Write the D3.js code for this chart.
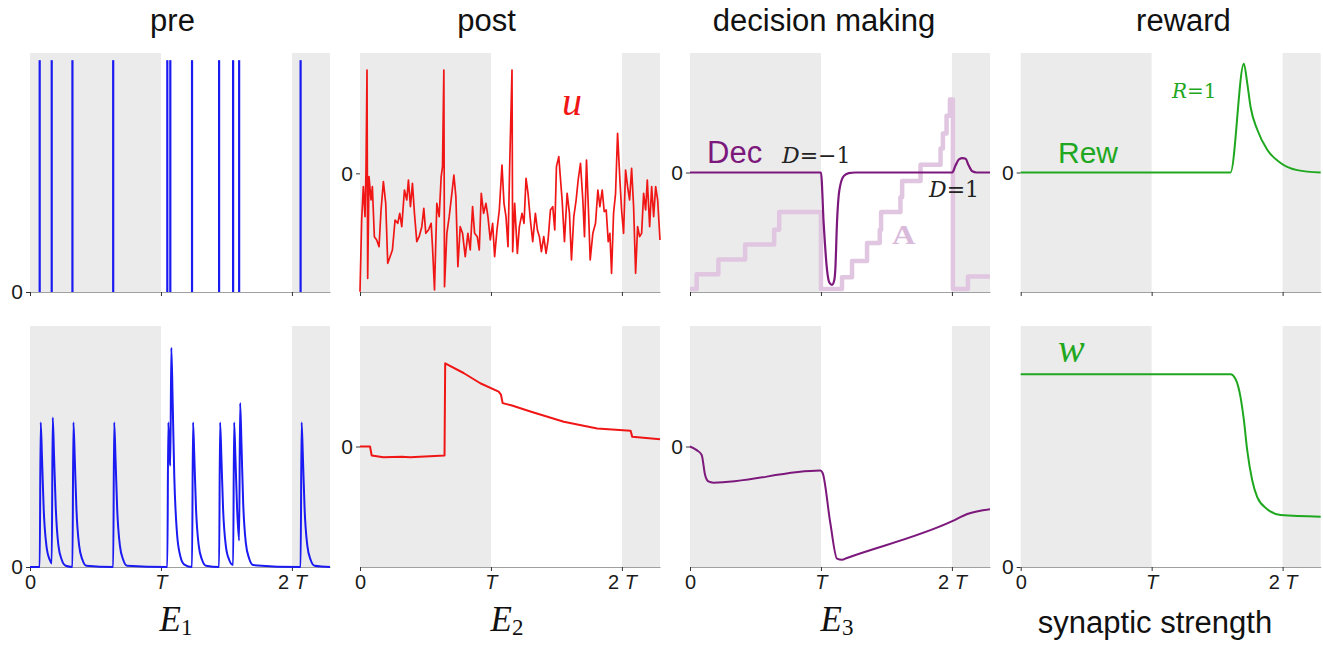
<!DOCTYPE html>
<html><head><meta charset="utf-8">
<script src="https://cdn.jsdelivr.net/npm/d3@7"></script>
<style>body{margin:0;background:#fff}</style>
</head><body>
<svg id="c" width="1323" height="645"></svg>
<script>
// ---------- data (time in steps, T = 392) ----------
const T = 392, TMAX = 898;
const xTicks = [0, 392, 784];
const xTickLabels = ["0", "T", "2 T"];
const shadedIntervals = [[0, 392], [784, 898]];
const columnTitles = ["pre", "post", "decision making", "reward"];
const columnXLabels = ["E1", "E2", "E3", "synaptic strength"];

const preSpikeTimes = [29, 65, 127, 249, 411, 420, 485, 566, 608, 626, 810];
const spikeHeight = 0.97;

const e1Trace = [
[0,0],[29,0],[32,0.6],[36,0.45],[41,0.24],[49,0.09],[59,0.03],[65,0.015],
[68,0.62],[72,0.46],[77,0.25],[85,0.09],[95,0.03],[107,0.005],
[127,0],[130,0.6],[134,0.45],[139,0.24],[147,0.09],[157,0.03],[169,0.005],
[249,0],[252,0.6],[256,0.45],[261,0.24],[269,0.09],[279,0.03],[291,0.005],
[411,0],[414,0.6],[418,0.45],[420,0.42],[423,0.91],[427,0.69],[432,0.37],[440,0.14],[450,0.045],[462,0.01],
[485,0],[488,0.6],[492,0.45],[497,0.24],[505,0.09],[515,0.03],[527,0.005],
[566,0],[569,0.6],[573,0.45],[578,0.24],[586,0.09],[596,0.03],
[608,0.008],[611,0.6],[615,0.45],[620,0.24],[626,0.11],[629,0.68],[633,0.51],[638,0.27],[646,0.1],[656,0.035],[668,0.008],
[810,0],[813,0.6],[817,0.45],[822,0.24],[830,0.09],[840,0.03],[852,0.005],[898,0]
];

const uTrace = [
[0,-35.5],[5,-14],[10,-4],[15,-13],[18,1],[21,31],[23,-31.5],[27,-1],[33,-8],[37,-4],[43,-19],[50,-20],[57,-22],[63,-11],[70,-2.5],[77,-9],[83,-27],[90,-25],[97,-23],[105,-14],[113,-15],[119,-12],[125,-16],[133,-5],[140,-8],[145,-2],[151,-10],[157,-3],[163,-12],[170,-20.5],[177,-19],[185,-16],[191,-10.5],[197,-18],[205,-17],[213,-15],[217,-22],[223,-35],[230,-9],[237,-13],[243,-1],[247,2],[251,31],[253,-34],[260,-18],[267,-13],[275,-6],[281,-0.5],[287,-7],
[293,-28],[300,-16],[307,-18],[315,-25],[323,-18],[330,-23],[337,-10],[343,-18],[351,-19],[357,-23],[363,-6],[370,-12],[377,-9],[383,-13],[390,-20],[397,-15],[403,-25],[410,-17],[417,-11],[425,2.5],[431,-9],[437,-13],[443,-22],[448,2],[455,31],[457,-23.5],[463,-9],[471,-24],[477,-16],[485,-12],[491,-15],[497,-1.5],[503,-6],[510,-14],[517,-20.5],[525,-12],[531,-17],[537,-19],[543,-23.5],[550,-19],[557,-24],[563,-20],[570,-11],[577,-10],[583,-17],[588,2],[595,5],
[605,-8],[612,-20.5],[620,-6],[627,-12],[633,-26],[640,-13],[647,-8],[653,-2],[660,3],[667,-8],[672,-19],[678,4],[685,-14],[689,-26],[697,-18],[705,-15],[712,-5],[718,-10],[725,-5],[731,-11.5],[737,-11],[743,-20.5],[748,-18],[753,-30],[759,-12],[765,-6],[771,12],[778,-2],[783,-11],[789,-18],[795,1],[801,-4],[807,-8],[813,1.5],[819,-10],[825,-30],[831,-16],[837,-19],[843,-18],[849,-6],[855,-11],[860,-2],[867,-16],[873,-4],[879,-13],[885,-4],[891,-8],[898,-20]
];
const uDomain = [-35.6, 36.1];

const e2Trace = [
[0,0],[30,0],[35,-0.075],[70,-0.09],[125,-0.085],[150,-0.09],[253,-0.075],[255,0.69],[310,0.61],[360,0.525],[415,0.455],[422,0.43],[427,0.36],[455,0.34],[510,0.29],[610,0.205],[710,0.15],[810,0.13],[815,0.08],[898,0.06]
];

const decTrace = [
[0,0],[392,0],[400,-0.42],[410,-0.81],[417,-0.92],[425,-0.94],[432,-0.9],[435,-0.81],[440,-0.42],[447,-0.15],[460,-0.03],[475,-0.005],[495,0],
[785,0],[795,0.06],[805,0.11],[816,0.12],[825,0.115],[834,0.06],[845,0.01],[858,0],[898,0]
];

const aSteps = [
[0,0],[20,1],[85,2],[165,3],[252,4],[267,5.2],[392,0],
[455,0.8],[485,1.9],[530,3.1],[568,4.0],[572,5.2],[630,6.2],[635,7.3],[690,8.4],[750,9.5],[757,10.5],[768,11.7],[778,12.8],[787,0],
[832,0.85],[898,0.85]
];
const aDomain = [0, 13];

const e3Trace = [
[0,0],[20,-0.03],[35,-0.07],[45,-0.235],[55,-0.29],[70,-0.3],[390,-0.2],[397,-0.22],[420,-0.635],[440,-0.93],[455,-0.94],[470,-0.925],[785,-0.62],[830,-0.56],[898,-0.52]
];

const rewTrace = [
[0,0],[628,0],[668,0.91],[678,0.75],[688,0.55],[708,0.36],[738,0.19],[778,0.08],[828,0.02],[898,0]
];

const wTrace = [
[0,0.8],[628,0.8],[643,0.78],[658,0.705],[668,0.61],[678,0.485],[693,0.36],[708,0.29],[738,0.24],[778,0.216],[898,0.209]
];

// ---------- layout ----------
const svg = d3.select("#c");
const colX = [30, 360, 690, 1020.7];
const plotW = 300;
const rows = [{top: 53, bottom: 292}, {top: 326, bottom: 567}];
const SANS = "'Liberation Sans', Arial, sans-serif";
const SERIF = "'Liberation Serif', 'Times New Roman', serif";
const DSERIF = "'DejaVu Serif', serif";
const COL = {blue: "#1a1af2", red: "#f01616", purple: "#7c187c", green: "#1fa81f", a: "#e0c6e0", gray: "#ebebeb"};

function makePanel(col, row, yDomain, zeroTick) {
  const r = rows[row];
  const x = d3.scaleLinear().domain([0, TMAX]).range([colX[col], colX[col] + plotW]);
  const y = d3.scaleLinear().domain(yDomain).range([r.bottom, r.top]);
  const g = svg.append("g");
  g.selectAll("rect.sh").data(shadedIntervals).join("rect")
    .attr("x", d => x(d[0])).attr("width", d => x(d[1]) - x(d[0]))
    .attr("y", r.top).attr("height", r.bottom - r.top)
    .attr("fill", COL.gray);
  // x axis
  const xa = g.append("g").attr("transform", `translate(0,${r.bottom})`)
    .call(d3.axisBottom(x).tickValues(xTicks).tickSize(4).tickSizeOuter(0).tickPadding(4).tickFormat(() => ""));
  xa.select(".domain").attr("stroke", "#a0a0a0").attr("stroke-width", 1);
  xa.selectAll(".tick line").attr("stroke", "#333");
  if (row === 1) {
    xa.selectAll(".tick text").each(function(d, i) {
      const t = d3.select(this).attr("font-size", 20).attr("font-family", SANS).attr("fill", "#1a1a1a");
      const lab = xTickLabels[i];
      if (lab === "0") t.text("0");
      else {
        const parts = lab.split(" ");
        if (parts.length === 2) { t.append("tspan").text(parts[0] + " "); t.append("tspan").attr("font-style", "italic").text(parts[1]); }
        else t.append("tspan").attr("font-style", "italic").text(parts[0]);
      }
    });
  }
  // y axis (only 0 tick)
  const ya = g.append("g").attr("transform", `translate(${colX[col]},0)`)
    .call(d3.axisLeft(y).tickValues([zeroTick]).tickSize(4).tickPadding(3).tickFormat(() => "0"));
  ya.select(".domain").remove();
  ya.selectAll(".tick line").attr("stroke", "#333");
  ya.selectAll(".tick text").attr("font-size", 21).attr("font-family", SANS).attr("fill", "#1a1a1a");
  return {x, y, g};
}

function drawLine(p, data, color, width, curve, yScale) {
  const ys = yScale || p.y;
  p.g.append("path").datum(data)
    .attr("d", d3.line().x(d => p.x(d[0])).y(d => ys(d[1])).curve(curve || d3.curveLinear))
    .attr("fill", "none").attr("stroke", color).attr("stroke-width", width)
    .attr("stroke-linejoin", "round");
}

// titles
const titleX = [172.5, 486.5, 824, 1183.5];
columnTitles.forEach((t, i) => {
  svg.append("text").attr("x", titleX[i]).attr("y", 31).attr("text-anchor", "middle")
    .attr("font-family", SANS).attr("font-size", 31).attr("fill", "#111").text(t);
});
// bottom labels
const xLabX = [176, 507, 837, 1155];
columnXLabels.forEach((t, i) => {
  const tx = svg.append("text").attr("x", xLabX[i]).attr("text-anchor", "middle").attr("fill", "#111");
  if (t.startsWith("E")) {
    tx.attr("y", 631).attr("font-family", SERIF).attr("font-size", 35);
    tx.append("tspan").attr("font-style", "italic").text("E");
    tx.append("tspan").attr("font-size", 23).attr("dy", 4).text(t.slice(1));
  } else {
    tx.attr("y", 633).attr("font-family", SANS).attr("font-size", 31).text(t);
  }
});

// ---- pre top ----
const p1 = makePanel(0, 0, [0, 1], 0);
p1.g.selectAll("line.sp").data(preSpikeTimes).join("line")
  .attr("x1", d => p1.x(d)).attr("x2", d => p1.x(d))
  .attr("y1", p1.y(0)).attr("y2", p1.y(spikeHeight))
  .attr("stroke", COL.blue).attr("stroke-width", 2.2);

// ---- post top ----
const p2 = makePanel(1, 0, uDomain, 0);
drawLine(p2, uTrace, COL.red, 1.7);
p2.g.append("text").attr("x", 562).attr("y", 115).attr("font-family", SERIF).attr("font-style", "italic")
  .attr("font-size", 40).attr("fill", COL.red).text("u");

// ---- decision top ----
const p3 = makePanel(2, 0, [-1, 1], 0);
const yA = d3.scaleLinear().domain(aDomain).range([289, 96.6]);
drawLine(p3, aSteps, COL.a, 4.5, d3.curveStepAfter, yA);
drawLine(p3, decTrace, COL.purple, 2.2, d3.curveMonotoneX);
p3.g.append("text").attr("x", 707).attr("y", 163).attr("font-family", SANS).attr("font-size", 31)
  .attr("fill", COL.purple).text("Dec");
function dLabel(xp, yp, rest) {
  const t = p3.g.append("text").attr("x", xp).attr("y", yp).attr("font-family", DSERIF).attr("font-size", 22).attr("fill", "#222");
  t.append("tspan").attr("font-style", "italic").text("D");
  t.append("tspan").text(rest);
}
dLabel(782, 163, "=\u22121");
dLabel(929, 197, "=1");
p3.g.append("text").attr("transform", "translate(892,244) scale(1.2,1)").attr("font-family", SERIF).attr("font-weight", "bold")
  .attr("font-size", 27).attr("fill", "#d9badb").text("A");

// ---- reward top ----
const p4 = makePanel(3, 0, [-1, 1], 0);
drawLine(p4, rewTrace, COL.green, 2, d3.curveMonotoneX);
p4.g.append("text").attr("x", 1058).attr("y", 163).attr("font-family", SANS).attr("font-size", 30)
  .attr("fill", COL.green).text("Rew");
{
  const t = p4.g.append("text").attr("x", 1172).attr("y", 98).attr("font-family", DSERIF).attr("font-size", 20).attr("fill", COL.green);
  t.append("tspan").attr("font-style", "italic").text("R");
  t.append("tspan").text("=1");
}

// ---- bottom row ----
const q1 = makePanel(0, 1, [0, 1], 0);
drawLine(q1, e1Trace, COL.blue, 2, d3.curveMonotoneX);

const q2 = makePanel(1, 1, [-1, 1], 0);
drawLine(q2, e2Trace, COL.red, 2);

const q3 = makePanel(2, 1, [-1, 1], 0);
drawLine(q3, e3Trace, COL.purple, 2, d3.curveMonotoneX);

const q4 = makePanel(3, 1, [0, 1], 0);
drawLine(q4, wTrace, COL.green, 2, d3.curveMonotoneX);
q4.g.append("text").attr("x", 1058).attr("y", 362).attr("font-family", SERIF).attr("font-style", "italic")
  .attr("font-size", 40).attr("fill", COL.green).text("w");
</script>
</body></html>
